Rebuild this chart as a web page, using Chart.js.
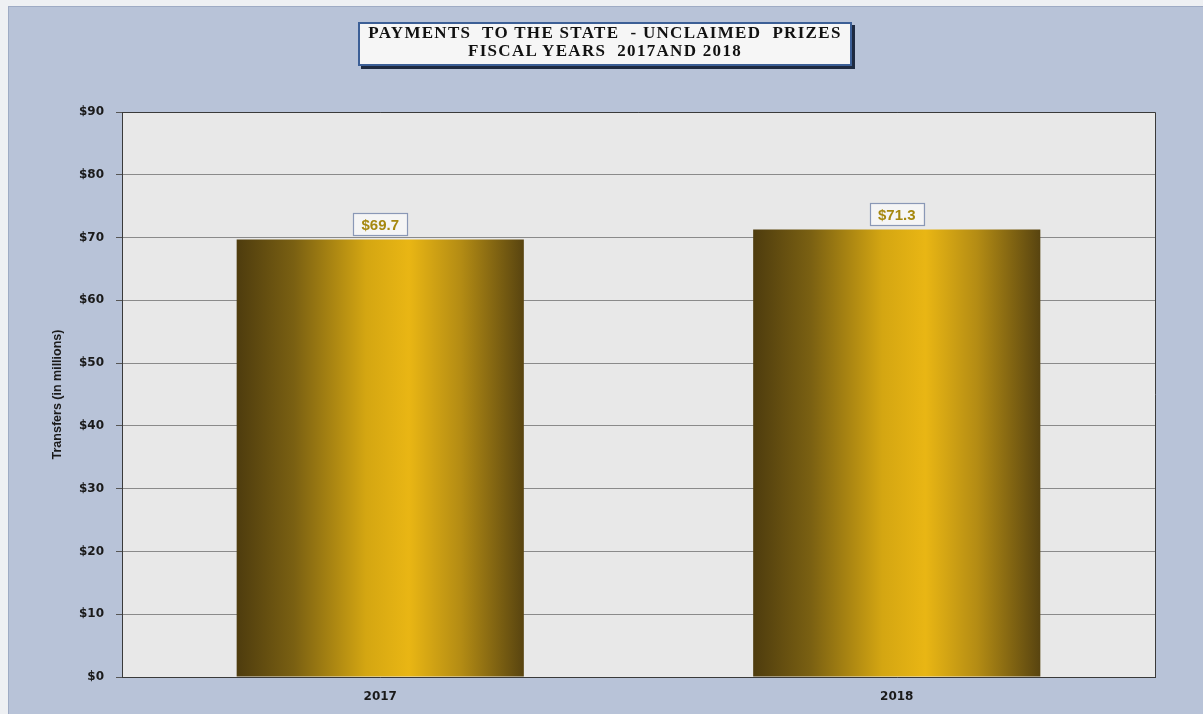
<!DOCTYPE html>
<html>
<head>
<meta charset="utf-8">
<script src="https://cdn.jsdelivr.net/npm/chart.js@4/dist/chart.umd.min.js"></script>
<style>
  html, body { margin: 0; padding: 0; width: 1203px; height: 714px; overflow: hidden; background: #eef0f3; }
  #panel { position: absolute; left: 8px; top: 6px; width: 1195px; height: 708px; background: #b8c3d8; border-top: 1px solid #9eabc4; border-left: 1px solid #9eabc4; box-sizing: border-box; }
  #wrap { position: absolute; left: 0; top: 0; width: 1203px; height: 714px; }
  #title { position: absolute; left: 358px; top: 22px; width: 494px; height: 44px; box-sizing: border-box;
    background: #f6f6f6; border: 2px solid #3c5f96; box-shadow: 3px 3px 0 #1e2a40;
    font-family: "Liberation Serif", "DejaVu Serif", serif; font-weight: bold; font-size: 17px; line-height: 18px;
    color: #111; text-align: center; padding-top: 0px; letter-spacing: 1.3px; white-space: nowrap; }
</style>
</head>
<body>
<div id="panel"></div>
<div id="wrap"><canvas id="c" width="1203" height="714"></canvas></div>
<div id="title">PAYMENTS&nbsp; TO THE STATE&nbsp; - UNCLAIMED&nbsp; PRIZES<br>FISCAL YEARS&nbsp; 2017AND 2018</div>
<script>
const categories = ["2017", "2018"];
const transfers = [69.7, 71.3];
const yTickValues = [0, 10, 20, 30, 40, 50, 60, 70, 80, 90];
const yAxisTitle = "Transfers (in millions)";

const BAR_FRACTION = 0.556;

function barGradient(ctx) {
  const chart = ctx.chart;
  const xs = chart.scales && chart.scales.x;
  const a = chart.chartArea;
  if (!xs || !a || ctx.dataIndex === undefined) return "#c89a14";
  const cx = xs.getPixelForValue(ctx.dataIndex);
  const catW = (a.right - a.left) / categories.length;
  const w = catW * BAR_FRACTION;
  if (!isFinite(cx) || !isFinite(w)) return "#c89a14";
  const g = chart.ctx.createLinearGradient(cx - w / 2, 0, cx + w / 2, 0);
  g.addColorStop(0, "#4e3c0e");
  g.addColorStop(0.2, "#7a6012");
  g.addColorStop(0.45, "#d4a612");
  g.addColorStop(0.6, "#e9b614");
  g.addColorStop(0.78, "#b48c14");
  g.addColorStop(1, "#584410");
  return g;
}

const plotBg = {
  id: "plotBg",
  beforeDraw(chart) {
    const { ctx, chartArea: a } = chart;
    ctx.save();
    ctx.fillStyle = "#e8e8e8";
    ctx.fillRect(a.left, a.top, a.right - a.left, a.bottom - a.top);
    ctx.restore();
  },
  afterDraw(chart) {
    const { ctx, chartArea: a } = chart;
    ctx.save();
    ctx.strokeStyle = "#3a3a3a";
    ctx.lineWidth = 1;
    ctx.beginPath();
    ctx.moveTo(a.left, a.top + 0.5);
    ctx.lineTo(a.right + 0.5, a.top + 0.5);
    ctx.lineTo(a.right + 0.5, a.bottom);
    ctx.stroke();
    ctx.restore();
  }
};

const valueLabels = {
  id: "valueLabels",
  afterDatasetsDraw(chart) {
    const { ctx } = chart;
    const meta = chart.getDatasetMeta(0);
    ctx.save();
    ctx.font = "bold 15px 'Liberation Sans', Arial, sans-serif";
    ctx.textAlign = "center";
    ctx.textBaseline = "middle";
    meta.data.forEach((el, i) => {
      const txt = "$" + transfers[i].toFixed(1);
      const tw = ctx.measureText(txt).width;
      const bw = tw + 16, bh = 22;
      const bx = el.x - bw / 2, by = el.y - 4 - bh;
      ctx.fillStyle = "#f5f5f5";
      ctx.fillRect(bx, by, bw, bh);
      ctx.strokeStyle = "#8a98b6";
      ctx.lineWidth = 1.2;
      ctx.strokeRect(Math.round(bx) + 0.5, Math.round(by) + 0.5, Math.round(bw), bh);
      ctx.fillStyle = "#a6880f";
      ctx.fillText(txt, el.x, by + bh / 2 + 1);
    });
    ctx.restore();
  }
};

new Chart(document.getElementById("c"), {
  type: "bar",
  data: {
    labels: categories,
    datasets: [{
      data: transfers,
      backgroundColor: barGradient,
      borderWidth: 0,
      categoryPercentage: 1,
      barPercentage: BAR_FRACTION
    }]
  },
  options: {
    responsive: false,
    animation: false,
    devicePixelRatio: 1,
    layout: { padding: { top: 112, right: 48, left: 50, bottom: 10 } },
    plugins: { legend: { display: false }, tooltip: { enabled: false }, title: { display: false } },
    scales: {
      x: {
        grid: { display: false, drawTicks: false },
        border: { display: true, color: "#3a3a3a", width: 1 },
        ticks: { color: "#1a1a1a", font: { family: "'DejaVu Sans', Verdana, sans-serif", weight: "bold", size: 12 }, padding: 13 },
        afterFit(s) { s.height = 27; }
      },
      y: {
        min: 0, max: 90,
        afterBuildTicks(s) { s.ticks = yTickValues.map(v => ({ value: v })); },
        grid: { color: "#8a8a8a", lineWidth: 1, tickLength: 6, tickColor: "#555", drawTicks: true },
        border: { display: true, color: "#3a3a3a", width: 1 },
        ticks: {
          color: "#1a1a1a",
          padding: 12,
          font: { family: "'DejaVu Sans', Verdana, sans-serif", weight: "bold", size: 12 },
          callback: v => "$" + v
        },
        title: {
          display: true, text: yAxisTitle, color: "#1a1a1a",
          font: { family: "'Liberation Sans Narrow', 'Liberation Sans', Arial, sans-serif", weight: "bold", size: 12.5 },
          padding: { top: 0, bottom: 10 }
        },
        afterFit(s) { s.width = 72; }
      }
    }
  },
  plugins: [plotBg, valueLabels]
});
</script>
</body>
</html>
